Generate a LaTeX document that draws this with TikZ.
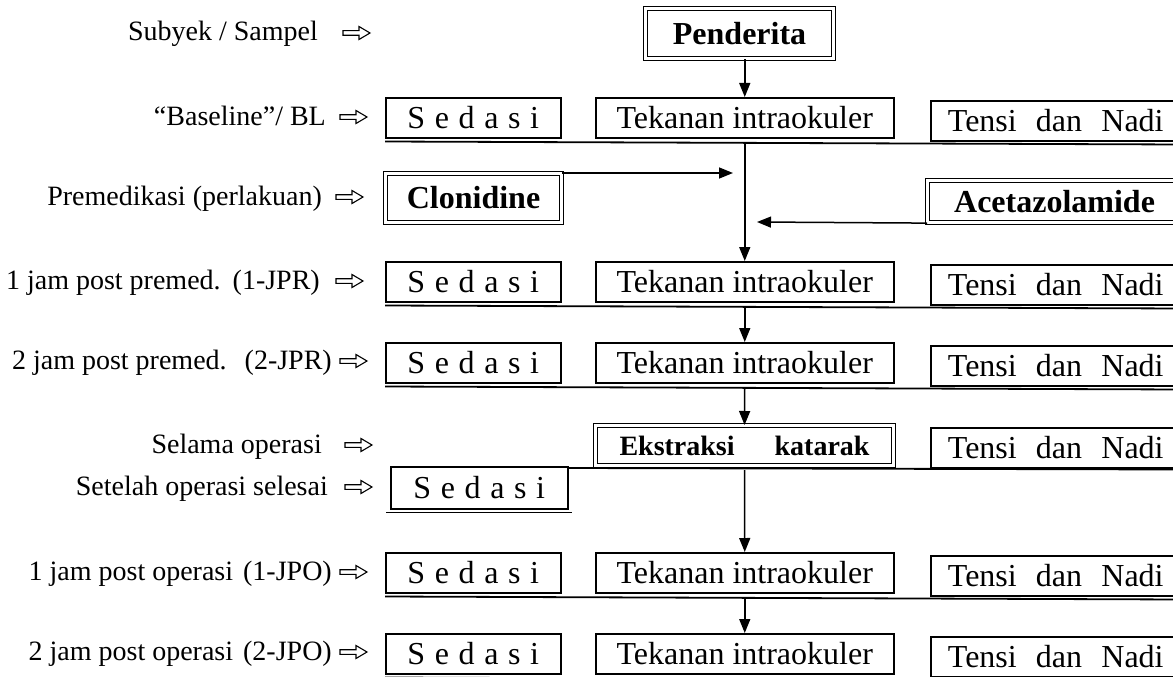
\documentclass[tikz,border=0pt]{standalone}
\usepackage{fontspec}
\setmainfont{Liberation Serif}
\usetikzlibrary{arrows.meta}
\newcommand{\lsp}{\hspace{0.3em}}
\newcommand{\sedasi}{S\lsp e\lsp d\lsp a\lsp s\lsp i}
\newcommand{\tdn}{Tensi\hspace{0.6em}dan\hspace{0.6em}Nadi}
\begin{document}
\begin{tikzpicture}[x=1pt,y=-1pt,
  box/.style={draw,line width=1.5pt,inner sep=0pt,anchor=north west,font=\fontsize{32}{32}\selectfont},
  dbox/.style={draw,double,line width=1.1pt,double distance=2.2pt,inner sep=0pt,anchor=north west,font=\fontsize{32}{32}\selectfont\bfseries},
  lab/.style={anchor=base east,inner sep=0pt,font=\fontsize{28}{28}\selectfont},
  uline/.style={line width=1.8pt},
  conn/.style={line width=1.5pt,-{Triangle[length=14pt,width=11pt]}},
  harr/.pic={\draw[line width=1.1pt,line join=miter] (0,-2.3) -- (16,-2.3) -- (16,-6.5) -- (27,0) -- (16,6.5) -- (16,2.3) -- (0,2.3) -- cycle;}
]
\useasboundingbox (0,0) rectangle (1173,677);

% labels (base line about 8pt below the arrow axis)
\node[lab] (l0) at (318,41) {Subyek / Sampel};
\node[lab] (l1) at (326,125) {“Baseline”/ BL};
\node[lab] (l2) at (322,205) {Premedikasi (perlakuan)};
\node[lab] (l3) at (320,289) {1 jam post premed.\hspace{12pt}(1-JPR)};
\node[lab] (l4) at (332,369) {2 jam post premed.\hspace{18pt}(2-JPR)};
\node[lab] (l5) at (322,453) {Selama operasi};
\node[lab] (l6) at (328,495) {Setelah operasi selesai};
\node[lab] (l7) at (332,580) {1 jam post operasi\hspace{10pt}(1-JPO)};
\node[lab] (l8) at (332,660) {2 jam post operasi\hspace{10pt}(2-JPO)};
\pic at (343,33) {harr};
\pic at (340,117) {harr};
\pic at (336,197) {harr};
\pic at (336,281) {harr};
\pic at (340,361) {harr};
\pic at (345,445) {harr};
\pic at (345,487) {harr};
\pic at (340,572) {harr};
\pic at (340,652) {harr};

% top
\node[dbox,minimum width=188pt,minimum height=50pt] (pend) at (645,8) {Penderita};

% standard rows
\foreach \n/\t in {bl/97,pa/261,pb/342,oa/552,ob/633}{
  \node[box,minimum width=175pt,minimum height=40pt] (\n-s) at (385,\t) {\sedasi};
  \node[box,minimum width=298pt,minimum height=40pt] (\n-t) at (595,\t) {Tekanan intraokuler};
  \node[box,minimum width=250pt,minimum height=40pt] (\n-n) at (930,{\t+3}) {\tdn};
  \draw[uline] ([yshift=-3pt]\n-s.south west) -- ([yshift=-3pt]\n-n.south east);
}

% premedication
\node[dbox,minimum width=176pt,minimum height=49pt] (clon) at (385,173) {Clonidine};
\node[dbox,minimum width=254pt,minimum height=42pt] (acet) at (927,180) {Acetazolamide};

% operation
\node[dbox,minimum width=298pt,minimum height=40pt,font=\fontsize{28}{28}\selectfont\bfseries] (ek) at (595,425) {Ekstraksi\hspace{40pt}katarak};
\node[box,minimum width=250pt,minimum height=40pt] (op-n) at (930,427) {\tdn};
\node[box,minimum width=177pt,minimum height=42pt] (set-s) at (390,466) {\sedasi};
\draw[uline] ([yshift=-2pt]set-s.north east) -- ([yshift=-1pt]op-n.south east);
\draw[uline] ([shift={(-4pt,-3pt)}]set-s.south west) -- ([shift={(3pt,-3pt)}]set-s.south east);

% connectors
\coordinate (cltip) at (733,173);
\coordinate (actip) at (757,222);
\draw[conn] (bl-t.north |- pend.south) -- (bl-t.north);
\draw[conn] ([yshift=-4pt]bl-t.south) -- (pa-t.north);
\draw[conn] (clon.north east) -- (cltip);
\draw[conn] (acet.south west) -- (actip);
\draw[conn] ([yshift=-4pt]pa-t.south) -- (pb-t.north);
\draw[conn] ([yshift=-4pt]pb-t.south) -- (ek.north);
\draw[conn] ([yshift=-4pt]ek.south) -- (oa-t.north);
\draw[conn] ([yshift=-4pt]oa-t.south) -- (ob-t.north);
\end{tikzpicture}
\end{document}
